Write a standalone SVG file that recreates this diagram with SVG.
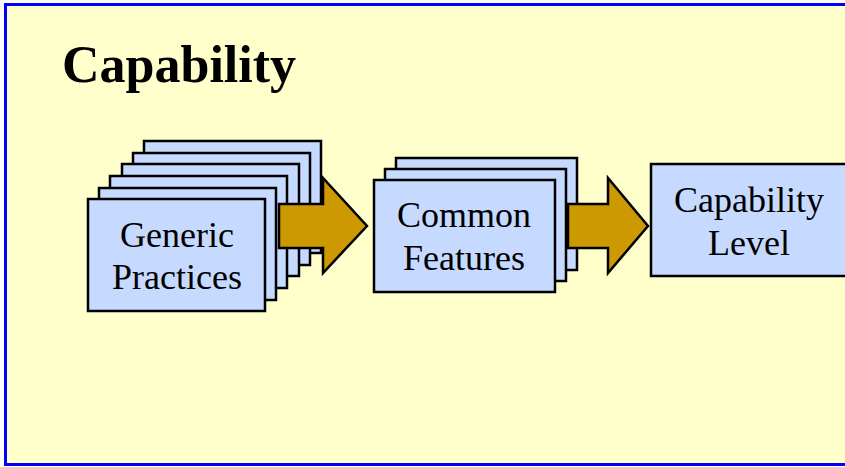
<svg xmlns="http://www.w3.org/2000/svg" width="845" height="467" viewBox="0 0 845 467">
<style>
.card{fill:#C6D9FF;stroke:#000;stroke-width:2.5}
.arrow{fill:#CC9900;stroke:#000;stroke-width:2.5;stroke-linejoin:miter}
.lbl{font-family:"Liberation Serif","Times New Roman",serif;font-size:36px;fill:#000;text-anchor:middle}
.title{font-family:"Liberation Serif","Times New Roman",serif;font-size:52px;font-weight:bold;fill:#000}
</style>
<rect x="0" y="0" width="845" height="467" fill="#FFFFFF"/>
<rect x="5.5" y="4.5" width="860" height="460" fill="#FFFFCC" stroke="#0000FF" stroke-width="3"/>
<text class="title" x="62" y="82">Capability</text>
<g id="generic-practices">
<rect class="card" x="144" y="141" width="177" height="112"/>
<rect class="card" x="133" y="153" width="177" height="112"/>
<rect class="card" x="122" y="164" width="177" height="112"/>
<rect class="card" x="110" y="176" width="177" height="112"/>
<rect class="card" x="99" y="188" width="177" height="112"/>
<rect class="card" x="88" y="199" width="177" height="112"/>
<text class="lbl" x="177" y="247">Generic</text>
<text class="lbl" x="177" y="289">Practices</text>
</g>
<g id="common-features">
<rect class="card" x="396" y="158" width="181" height="112"/>
<rect class="card" x="385" y="169" width="181" height="112"/>
<rect class="card" x="374" y="180" width="181" height="112"/>
<text class="lbl" x="464" y="227">Common</text>
<text class="lbl" x="464" y="270">Features</text>
</g>
<g id="capability-level">
<rect class="card" x="651" y="164" width="220" height="112"/>
<text class="lbl" x="749" y="212">Capability</text>
<text class="lbl" x="749" y="255">Level</text>
</g>
<g id="connectors">
<path class="arrow" d="M279,204 H323 V178 L367,226 L323,273 V248 H279 Z"/>
<path class="arrow" d="M568,204 H608 V178 L648,226 L608,273 V248 H568 Z"/>
</g>
</svg>
